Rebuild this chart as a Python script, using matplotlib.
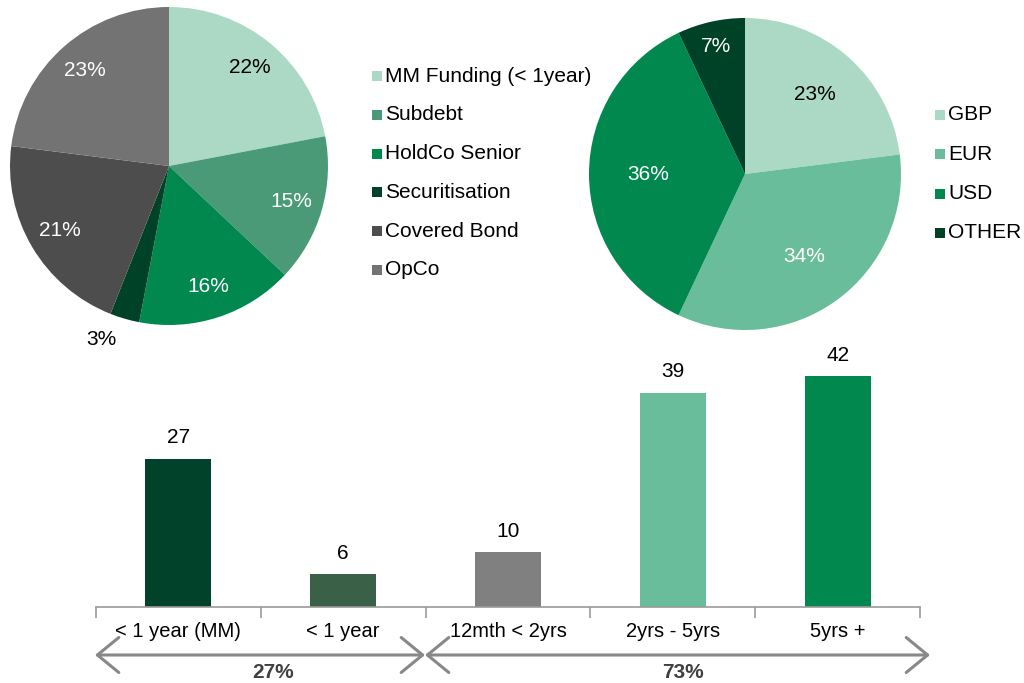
import matplotlib
matplotlib.use("Agg")
import matplotlib.pyplot as plt
from matplotlib.patches import Rectangle, FancyArrowPatch
import numpy as np

plt.rcParams['font.family'] = ['Liberation Sans', 'DejaVu Sans']

# ---- data ----
funding_labels = ["MM Funding (< 1year)", "Subdebt", "HoldCo Senior", "Securitisation", "Covered Bond", "OpCo"]
funding_values = [22, 15, 16, 3, 21, 23]
funding_colors = ["#acd9c5", "#4a9a78", "#00884f", "#004228", "#4d4d4d", "#737373"]

currency_labels = ["GBP", "EUR", "USD", "OTHER"]
currency_values = [23, 34, 36, 7]
currency_colors = ["#acd9c5", "#6abd9a", "#00884f", "#004228"]

maturity_labels = ["< 1 year (MM)", "< 1 year", "12mth < 2yrs", "2yrs - 5yrs", "5yrs +"]
maturity_values = [27, 6, 10, 39, 42]
maturity_colors = ["#00432a", "#3a6147", "#808080", "#6abd9a", "#00884f"]

group_labels = ["27%", "73%"]

W, H = 1024, 683
fig = plt.figure(figsize=(W / 100, H / 100), dpi=100)


def px_axes(left, top, width, height):
    return fig.add_axes([left / W, 1 - (top + height) / H, width / W, height / H])


def fx(x):
    return x / W


def fy(y):
    return 1 - y / H


def draw_pie(ax, values, colors, dists, txtcolors, angle_adj):
    ax.pie(values, colors=colors, startangle=90, counterclock=False,
           radius=1.0, wedgeprops=dict(linewidth=0))
    total = float(sum(values))
    cum = 0.0
    for v, d, c, adj in zip(values, dists, txtcolors, angle_adj):
        mid = 90 - (cum + v / 2) / total * 360 + adj
        cum += v
        a = np.deg2rad(mid)
        ax.text(d * np.cos(a), d * np.sin(a), f"{v}%", ha="center", va="center",
                fontsize=15, color=c, zorder=10)
    ax.set_xlim(-1, 1)
    ax.set_ylim(-1, 1)
    ax.set_aspect("equal")
    ax.axis("off")


# Bar chart (created first so pies' outside labels are drawn above it)
bar_h = 270
ax3 = px_axes(96, 607 - bar_h, 824, bar_h)
ax3.patch.set_visible(False)
x = np.arange(len(maturity_values))
ax3.bar(x, maturity_values, width=0.4, color=maturity_colors)
for xi, v in zip(x, maturity_values):
    ax3.annotate(str(v), (xi, v), xytext=(0, 8), textcoords="offset points",
                 ha="center", va="bottom", fontsize=15)
ax3.set_xlim(-0.5, len(x) - 0.5)
ax3.set_ylim(0, bar_h / 5.5)
for s in ["top", "right", "left"]:
    ax3.spines[s].set_visible(False)
ax3.spines["bottom"].set_color("#9a9a9a")
ax3.spines["bottom"].set_linewidth(1.2)
ax3.set_yticks([])
ax3.set_xticks(x)
ax3.set_xticklabels(maturity_labels, fontsize=14.5,
                    family=['Liberation Sans Narrow', 'Liberation Sans', 'DejaVu Sans'])
ax3.tick_params(axis="x", which="major", length=0, pad=11)
ax3.set_xticks(np.arange(-0.5, len(x)), minor=True)
ax3.tick_params(axis="x", which="minor", length=8, width=1.2, color="#9a9a9a",
                direction="out")

# Pie 1
ax1 = px_axes(10, 7, 318, 318)
draw_pie(ax1, funding_values, funding_colors,
         [0.8, 0.8, 0.8, 1.17, 0.8, 0.8],
         ["black", "white", "white", "black", "white", "white"],
         [0, 0, 0, -5, 0, 0])

# Pie 2
ax2 = px_axes(589, 18, 312, 312)
draw_pie(ax2, currency_values, currency_colors,
         [0.68, 0.65, 0.62, 0.84],
         ["black", "white", "white", "white"],
         [0, 0, 0, 0])


def legend(x_sq, y0, dy, labels, colors):
    for i, (lab, col) in enumerate(zip(labels, colors)):
        y = y0 + i * dy
        fig.patches.append(Rectangle((fx(x_sq), fy(y + 5)), 10 / W, 10 / H,
                                     transform=fig.transFigure, facecolor=col,
                                     edgecolor="none"))
        fig.text(fx(x_sq + 13), fy(y), lab, ha="left", va="center", fontsize=15,
                 color="black")


legend(372, 76, 38.8, funding_labels, funding_colors)
legend(935, 115, 39.3, currency_labels, currency_colors)

# Group arrows
arrow_y = fy(655)
for (a, b) in [(95, 425), (425, 930)]:
    fig.add_artist(FancyArrowPatch(
        (fx(a), arrow_y), (fx(b), arrow_y), transform=fig.transFigure,
        arrowstyle="<->,head_length=1.1,head_width=0.9", mutation_scale=14,
        color="#888888", linewidth=2.2, shrinkA=0, shrinkB=0))

for gx, lab in zip([273, 683], group_labels):
    fig.text(fx(gx), fy(673), lab, ha="center", va="center", fontsize=15,
             fontweight="bold", color="#404040",
             family=['Liberation Sans Narrow', 'Liberation Sans', 'DejaVu Sans'])

fig.savefig("out.png", dpi=100, facecolor="white")
